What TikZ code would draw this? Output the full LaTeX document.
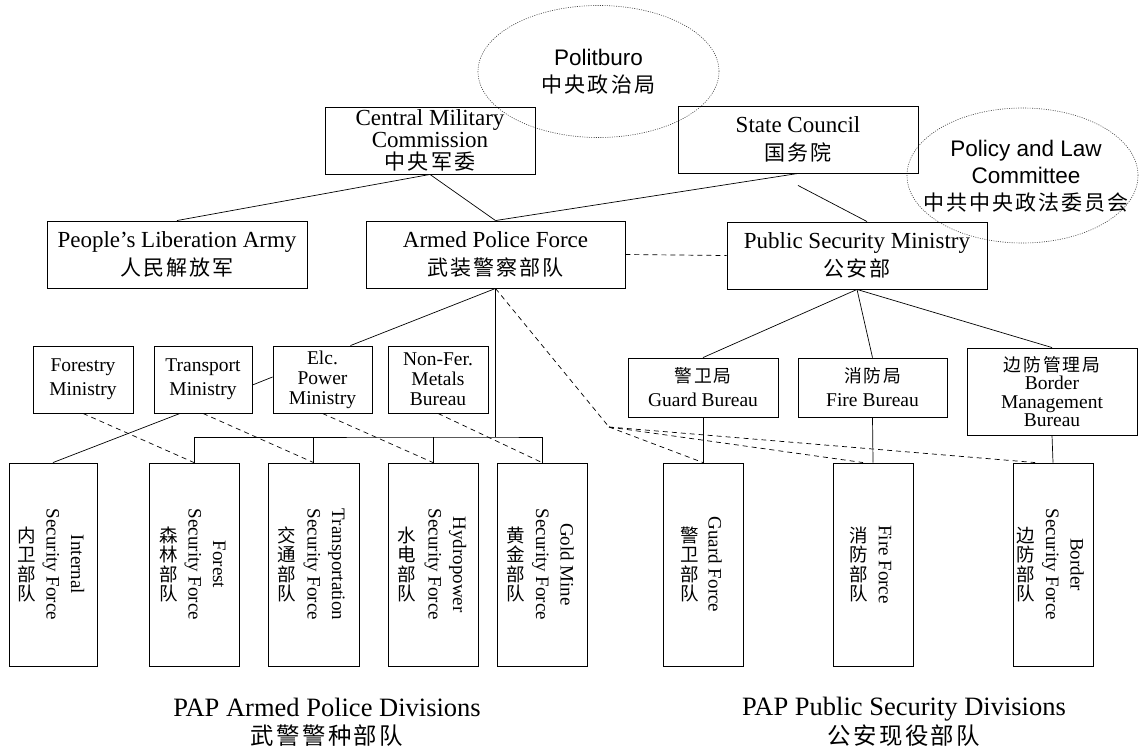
\documentclass[tikz,border=0pt]{standalone}
\usepackage{fontspec}
\usepackage{tikz}
\setmainfont{Liberation Serif}
\newfontfamily\sansf{Liberation Sans}
\newfontfamily\cjk[LetterSpace=10]{Noto Sans CJK SC}
\newcommand{\cnbig}[1]{{\cjk\fontsize{21}{27}\selectfont #1}}
\newcommand{\cnmid}[1]{{\cjk\fontsize{17.8}{24}\selectfont #1}}
\newcommand{\cnlow}[1]{{\cjk\fontsize{23.4}{28}\selectfont #1}}

\begin{document}
\begin{tikzpicture}[x=1pt,y=-1pt,
	box/.style={draw,line width=0.9pt,inner sep=0pt,align=center},
	topbox/.style={box,minimum height=67pt,font=\fontsize{23}{27.5}\selectfont},
	midbox/.style={box,font=\fontsize{19.5}{24}\selectfont},
	divbox/.style={box,minimum height=203pt},
	ovaltext/.style={align=center,inner sep=0pt,font=\sansf\fontsize{22.5}{27}\selectfont},
	oval/.style={draw=black!75,line width=0.6pt,dash pattern=on 1pt off 1.3pt},
	link/.style={line width=0.7pt},
	dashlink/.style={link,dash pattern=on 5pt off 4pt},
	vtext/.style={rotate=-90,align=center,inner sep=0pt,font=\fontsize{19}{24.5}\selectfont},
	vcn/.style={align=center,inner sep=0pt,font=\cjk\fontsize{18.5}{19.5}\selectfont},
	divtitle/.style={align=center,inner sep=0pt,font=\fontsize{26.5}{28.5}\selectfont}]
		\useasboundingbox (0,0) rectangle (1139,752);
		\node[ovaltext] (politburo) at (598.5,71.5) {Politburo\\\cnbig{中央政治局}};
		\draw[oval] (politburo.center) ellipse [x radius=120.5pt,y radius=66pt];
		\node[ovaltext] (plc) at (1026,176.5) {Policy and Law\\Committee\\\cnbig{中共中央政法委员会}};
		\draw[oval] ([xshift=-3.5pt,yshift=1pt]plc.center) ellipse [x radius=115.5pt,y radius=67.5pt];
		\node[topbox,minimum width=210pt,font=\fontsize{23}{22}\selectfont] (cmc) at (430,140.5) {Central Military\\Commission\\\cnbig{中央军委}};
		\node[topbox,minimum width=240pt] (sc) at (798,139.5) {State Council\\\cnbig{国务院}};
		\node[topbox,minimum width=260pt] (pla) at (177,254.5) {People's Liberation Army\\\cnbig{人民解放军}};
		\node[topbox,minimum width=259pt] (apf) at (495.5,254.5) {Armed Police Force\\\cnbig{武装警察部队}};
		\node[topbox,minimum width=260pt] (psm) at (857,255.5) {Public Security Ministry\\\cnbig{公安部}};
		\node[midbox,minimum width=100pt,minimum height=67pt] (forestry) at (83,379.5) {Forestry\\Ministry};
		\node[midbox,minimum width=98pt,minimum height=67pt] (transport) at (203,379.5) {Transport\\Ministry};
		\node[midbox,minimum width=99pt,minimum height=67pt,font=\fontsize{19.5}{20}\selectfont] (elc) at (322.5,379.5) {Elc.\\Power\\Ministry};
		\node[midbox,minimum width=100pt,minimum height=67pt,font=\fontsize{19.5}{20}\selectfont] (nonfer) at (438,379.5) {Non-Fer.\\Metals\\Bureau};
		\node[midbox,minimum width=150pt,minimum height=59pt] (guardb) at (703,387.5) {\cnmid{警卫局}\\Guard Bureau};
		\node[midbox,minimum width=149pt,minimum height=59pt] (fireb) at (872.5,387.5) {\cnmid{消防局}\\Fire Bureau};
		\node[midbox,minimum width=170pt,minimum height=87pt,font=\fontsize{19.5}{18.5}\selectfont] (borderb) at (1052,391.5) {\cnmid{边防管理局}\\Border\\Management\\Bureau};
		\node[divbox,minimum width=88pt] (internal) at (53,564.5) {};
		\node[vtext] (internal-en) at ([xshift=10.5pt]internal.center) {Internal\\Security Force};
		\node[vcn] (internal-cn) at ([xshift=-26pt]internal.center) {内\\卫\\部\\队};
		\node[divbox,minimum width=90pt] (forest) at (194,564.5) {};
		\node[vtext] (forest-en) at ([xshift=11pt]forest.center) {Forest\\Security Force};
		\node[vcn] (forest-cn) at ([xshift=-25pt]forest.center) {森\\林\\部\\队};
		\node[divbox,minimum width=91pt] (transp) at (313.5,564.5) {};
		\node[vtext] (transp-en) at ([xshift=10.5pt]transp.center) {Transportation\\Security Force};
		\node[vcn] (transp-cn) at ([xshift=-26.5pt]transp.center) {交\\通\\部\\队};
		\node[divbox,minimum width=90pt] (hydro) at (433,564.5) {};
		\node[vtext] (hydro-en) at ([xshift=12.5pt]hydro.center) {Hydropower\\Security Force};
		\node[vcn] (hydro-cn) at ([xshift=-26.5pt]hydro.center) {水\\电\\部\\队};
		\node[divbox,minimum width=90pt] (gold) at (542,564.5) {};
		\node[vtext] (gold-en) at ([xshift=11pt]gold.center) {Gold Mine\\Security Force};
		\node[vcn] (gold-cn) at ([xshift=-26pt]gold.center) {黄\\金\\部\\队};
		\node[divbox,minimum width=80pt] (guardf) at (703,564.5) {};
		\node[vtext] (guardf-en) at ([xshift=12pt]guardf.center) {Guard Force};
		\node[vcn] (guardf-cn) at ([xshift=-13pt]guardf.center) {警\\卫\\部\\队};
		\node[divbox,minimum width=80pt] (firef) at (873,564.5) {};
		\node[vtext] (firef-en) at ([xshift=12pt]firef.center) {Fire Force};
		\node[vcn] (firef-cn) at ([xshift=-14pt]firef.center) {消\\防\\部\\队};
		\node[divbox,minimum width=80pt] (borderf) at (1053,564.5) {};
		\node[vtext] (borderf-en) at ([xshift=10pt]borderf.center) {Border\\Security Force};
		\node[vcn] (borderf-cn) at ([xshift=-27pt]borderf.center) {边\\防\\部\\队};
		\node[divtitle] (armedtitle) at (327,722.5) {PAP Armed Police Divisions\\\cnlow{武警警种部队}};
		\node[divtitle] (publictitle) at (904,722) {PAP Public Security Divisions\\\cnlow{公安现役部队}};
		\coordinate (bus) at (495.5,437);
		\coordinate (fan) at (609,427);
		\draw[link] (cmc.south) -- (pla.north);
		\draw[link] (cmc.south) -- (apf.north);
		\draw[link] (sc.south) -- (apf.north);
		\draw[link] ([yshift=-12pt]sc.south) -- ([xshift=10pt]psm.north);
		\draw[dashlink] (apf.east) -- (psm.west);
		\draw[link] (apf.south) -- ([xshift=28pt]elc.north);
		\draw[link] (apf.south) -- (bus);
		\draw[link] (forest.north) |- (bus) -| (gold.north);
		\draw[link] (transp.north) -- (transp.north |- bus);
		\draw[link] (hydro.north) -- (hydro.north |- bus);
		\draw[link] ([xshift=-23pt]transport.south) -- (internal.north);
		\draw[link] ([yshift=-5.5pt]transport.east) -- ([yshift=2.5pt]elc.west);
		\draw[dashlink] (forestry.south) -- (forest.north);
		\draw[dashlink] (transport.south) -- (transp.north);
		\draw[dashlink] (elc.south) -- (hydro.north);
		\draw[dashlink] (nonfer.south) -- (gold.north);
		\draw[link] (psm.south) -- (guardb.north);
		\draw[link] (psm.south) -- (fireb.north);
		\draw[link] (psm.south) -- (borderb.north);
		\draw[link] (guardb.south) -- (guardf.north);
		\draw[link] (fireb.south) -- (firef.north);
		\draw[link] (borderb.south) -- (borderf.north);
		\draw[dashlink] (apf.south) -- (fan);
		\draw[dashlink] (fan) -- (guardf.north);
		\draw[dashlink] (fan) -- ([xshift=-10pt]firef.north);
		\draw[dashlink] (fan) -- ([xshift=-18pt]borderf.north);
		\end{tikzpicture}
\end{document}
